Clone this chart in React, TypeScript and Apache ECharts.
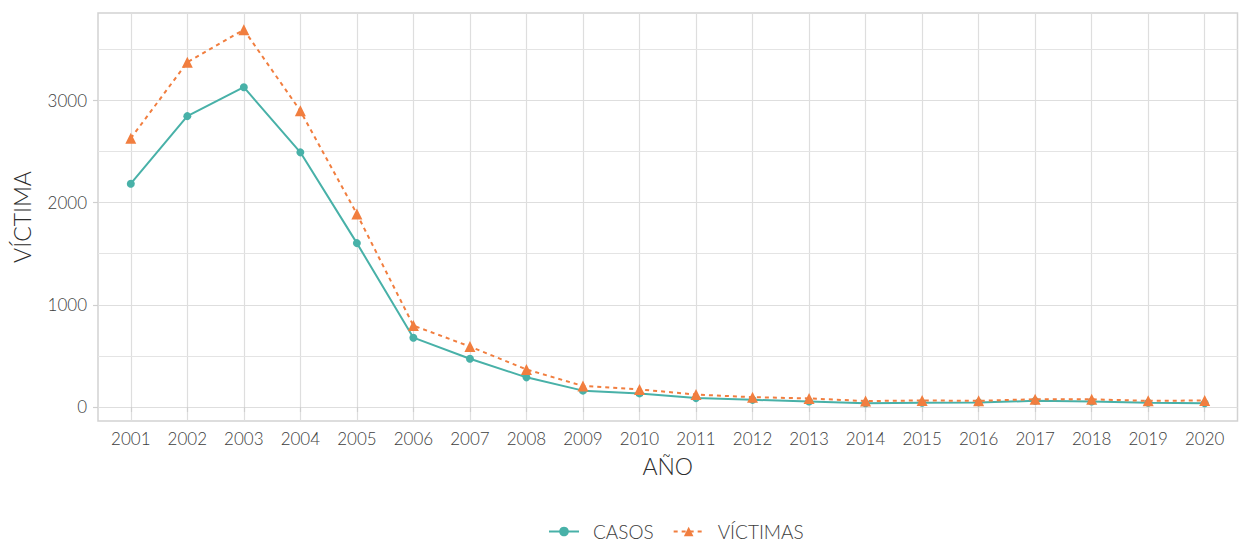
import React, { useEffect, useRef } from "react";
import * as echarts from "echarts";

const years = [2001, 2002, 2003, 2004, 2005, 2006, 2007, 2008, 2009, 2010, 2011, 2012, 2013, 2014, 2015, 2016, 2017, 2018, 2019, 2020];
const casos = [2184, 2845, 3128, 2491, 1603, 678, 472, 290, 160, 133, 87, 70, 54, 36, 42, 45, 60, 54, 42, 36];
const victimas = [2628, 3372, 3690, 2897, 1888, 796, 592, 367, 206, 172, 122, 96, 84, 58, 64, 60, 76, 75, 60, 64];
const yMajor = [0, 1000, 2000, 3000];
const yMinor = [500, 1500, 2500, 3500];

const TEAL = "#48B1A8";
const ORANGE = "#F17E3F";
const FONT = "Lato, 'Noto Sans', sans-serif";
const TXT = "#3d3d3d";

export default function App() {
  const ref = useRef<HTMLDivElement>(null);
  useEffect(() => {
    if (!ref.current) return;
    const chart = echarts.init(ref.current, undefined, { renderer: "svg" });
    chart.setOption({
      animation: false,
      textStyle: { fontFamily: FONT },
      grid: {
        left: 98,
        right: 1.5,
        top: 13,
        bottom: 122,
        show: true,
        borderColor: "#d2d2d2",
        borderWidth: 1.5,
        backgroundColor: "transparent",
      },
      legend: {
        top: 522,
        left: 548,
        padding: 0,
        itemWidth: 30,
        itemHeight: 12,
        itemGap: 19,
        textStyle: { fontFamily: FONT, fontSize: 19, fontWeight: 300, color: TXT, padding: [0, 0, 0, 9] },
        data: ["CASOS", "VÍCTIMAS"],
      },
      xAxis: {
        type: "value",
        min: 2000.42,
        max: 2020.58,
        name: "AÑO",
        nameLocation: "middle",
        nameGap: 33,
        nameTextStyle: { fontSize: 23, fontWeight: 300, color: "#2d2d2d", fontFamily: FONT },
        axisLine: { show: false },
        axisTick: { show: true, length: 5, customValues: years, lineStyle: { color: "#cfcfcf", width: 1.2 } },
        axisLabel: {
          customValues: years,
          formatter: (v: number) => String(v),
          fontSize: 17,
          fontWeight: 300,
          color: TXT,
          margin: 9,
          fontFamily: FONT,
        },
        splitLine: { show: true, lineStyle: { color: "#dedede", width: 1.2 } },
      },
      yAxis: {
        type: "value",
        min: -137,
        max: 3854,
        name: "VÍCTIMA",
        nameLocation: "middle",
        nameGap: 65,
        nameTextStyle: { fontSize: 23, fontWeight: 300, color: "#2d2d2d", fontFamily: FONT },
        axisLine: { show: false },
        axisTick: { show: true, length: 5, customValues: yMajor, lineStyle: { color: "#cfcfcf", width: 1.2 } },
        axisLabel: {
          customValues: yMajor,
          formatter: (v: number) => String(v),
          fontSize: 17,
          fontWeight: 300,
          color: TXT,
          margin: 11,
          fontFamily: FONT,
        },
        splitLine: { show: true, lineStyle: { color: "#dedede", width: 1.2 } },
      },
      series: [
        {
          name: "CASOS",
          type: "line",
          data: years.map((y, i) => [y, casos[i]]),
          symbol: "circle",
          symbolSize: 8,
          lineStyle: { color: TEAL, width: 2 },
          itemStyle: { color: TEAL },
          z: 3,
          markLine: {
            silent: true,
            symbol: "none",
            label: { show: false },
            lineStyle: { color: "#e4e4e4", width: 1, type: "solid" },
            data: yMinor.map((v) => ({ yAxis: v })),
            z: 1,
          },
        },
        {
          name: "VÍCTIMAS",
          type: "line",
          data: years.map((y, i) => [y, victimas[i]]),
          symbol: "triangle",
          symbolSize: 11,
          lineStyle: { color: ORANGE, width: 2, type: [4, 4] },
          itemStyle: { color: ORANGE },
          z: 4,
        },
      ],
    });
    return () => chart.dispose();
  }, []);
  return <div ref={ref} style={{ width: 1239, height: 543, position: "absolute", left: 0, top: 0 }} />;
}
